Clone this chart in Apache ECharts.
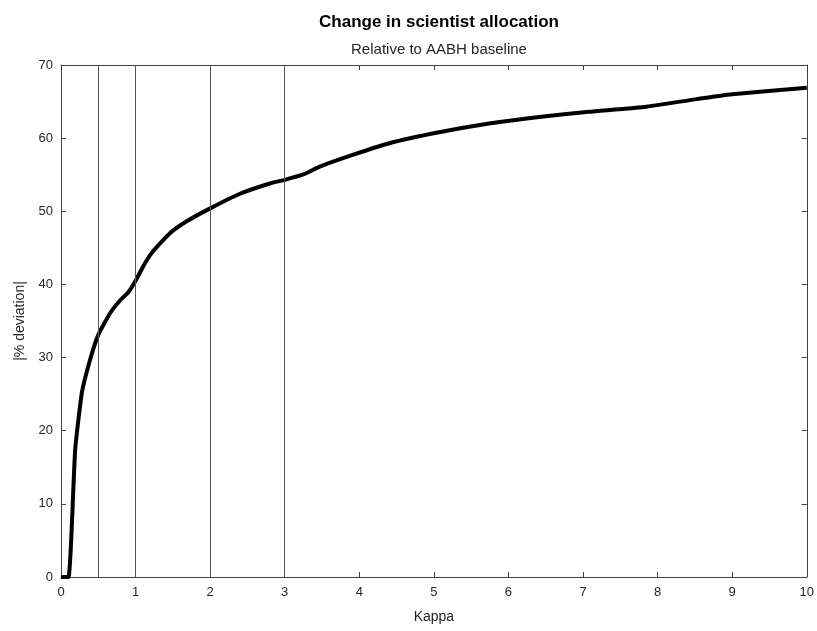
<!DOCTYPE html>
<html>
<head>
<meta charset="utf-8">
<script src="https://cdn.jsdelivr.net/npm/echarts@6/dist/echarts.min.js"></script>
<style>
  html, body { margin: 0; padding: 0; background: #fff; }
  #chart { width: 817px; height: 631px; }
</style>
</head>
<body>
<div id="chart"></div>
<script>
// values
const kappa = [0, 0.1, 0.19, 0.28, 0.39, 0.5, 0.66, 0.8, 0.9, 1.0, 1.12, 1.24, 1.46, 1.68, 2.0, 2.4, 2.8, 3.0, 3.24, 3.47, 3.91, 4.4, 5.07, 5.74, 6.41, 7.08, 7.85, 8.5, 9.0, 10];
const deviation = [0, 0, 17.4, 25.2, 29.7, 33.1, 36.1, 37.9, 38.9, 40.5, 42.8, 44.6, 47.0, 48.6, 50.4, 52.4, 53.8, 54.3, 55.0, 56.1, 57.7, 59.3, 60.8, 62.0, 62.9, 63.6, 64.3, 65.3, 66.0, 66.9];
const refLines = [0.5, 1, 2, 3];
const xTicks = { min: 0, max: 10, step: 1 };
const yTicks = { min: 0, max: 70, step: 10 };

const axisColor = "#404040";
const textColor = "#262626";
const font = "Liberation Sans, Arial, Helvetica, sans-serif";

const chart = echarts.init(document.getElementById("chart"), null, { renderer: "canvas" });

const seriesData = kappa.map((k, i) => [k, deviation[i]]);

// top / right axes only close the box
const boxAxis = {
  axisLine: { show: true, onZero: false, lineStyle: { color: axisColor, width: 1 } },
  axisTick: { show: true, inside: true, length: 5, lineStyle: { color: axisColor } },
  axisLabel: { show: false },
  splitLine: { show: false }
};

chart.setOption({
  animation: false,
  title: [
    {
      text: "Change in scientist allocation",
      left: 434, top: 9, textAlign: "center",
      textStyle: { fontFamily: font, fontSize: 17, fontWeight: "bold", color: "#000" }
    },
    {
      text: "Relative to AABH baseline",
      left: 434, top: 37, textAlign: "center",
      textStyle: { fontFamily: font, fontSize: 15, fontWeight: "normal", color: textColor }
    }
  ],
  grid: { left: 61, right: 9, top: 65, bottom: 54, containLabel: false },
  xAxis: [
    {
      type: "value", min: xTicks.min, max: xTicks.max, interval: xTicks.step,
      position: "bottom",
      name: "Kappa", nameLocation: "middle", nameGap: 33,
      nameTextStyle: { fontFamily: font, fontSize: 14, color: textColor },
      axisLine: { show: true, onZero: false, lineStyle: { color: axisColor } },
      axisTick: { show: true, inside: true, length: 5, lineStyle: { color: axisColor } },
      axisLabel: { fontFamily: font, fontSize: 13, color: textColor, margin: 9 },
      splitLine: { show: false }
    },
    Object.assign({ type: "value", min: xTicks.min, max: xTicks.max, interval: xTicks.step, position: "top" }, boxAxis)
  ],
  yAxis: [
    {
      type: "value", min: yTicks.min, max: yTicks.max, interval: yTicks.step,
      position: "left",
      name: "|% deviation|", nameLocation: "middle", nameGap: 29,
      nameTextStyle: { fontFamily: font, fontSize: 14, color: textColor },
      axisLine: { show: true, onZero: false, lineStyle: { color: axisColor } },
      axisTick: { show: true, inside: true, length: 5, lineStyle: { color: axisColor } },
      axisLabel: { fontFamily: font, fontSize: 13, color: textColor, margin: 8 },
      splitLine: { show: false }
    },
    Object.assign({ type: "value", min: yTicks.min, max: yTicks.max, interval: yTicks.step, position: "right" }, boxAxis)
  ],
  series: [
    {
      type: "line",
      data: seriesData,
      xAxisIndex: 0,
      yAxisIndex: 0,
      symbol: "none",
      smooth: 0.15,
      lineStyle: { color: "#000", width: 4 },
      markLine: {
        silent: true,
        symbol: "none",
        label: { show: false },
        lineStyle: { color: "#555", width: 1, type: "solid" },
        data: refLines.map(v => ({ xAxis: v }))
      },
      z: 3
    }
  ]
});
</script>
</body>
</html>
